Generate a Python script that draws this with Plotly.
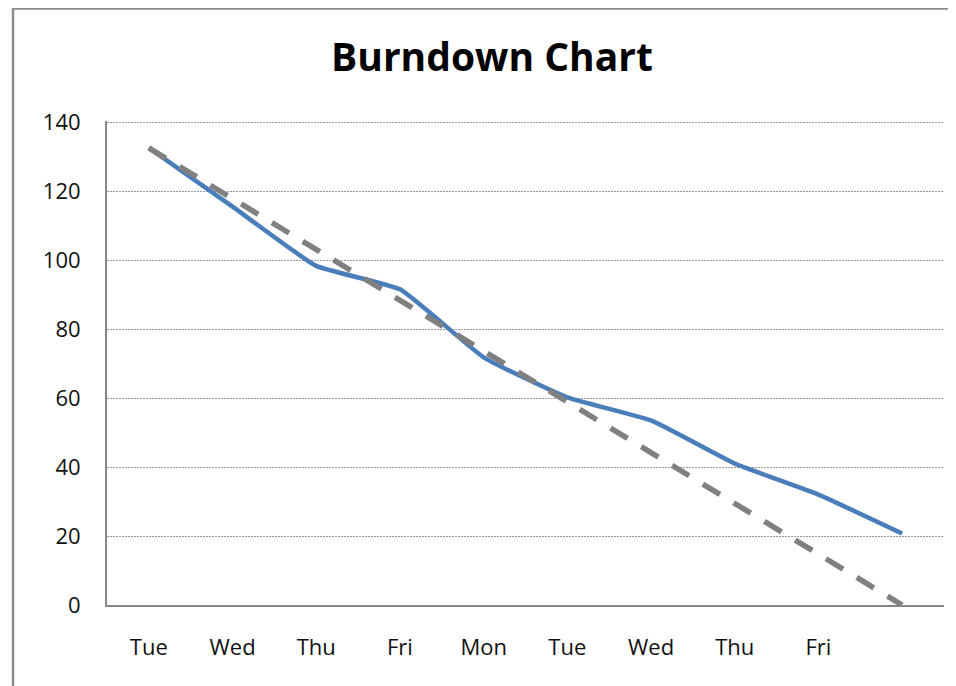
import plotly.graph_objects as go

days = ["Tue", "Wed", "Thu", "Fri", "Mon", "Tue", "Wed", "Thu", "Fri", ""]
actual = [132.5, 115.5, 98.3, 91.5, 71.8, 60.2, 53.5, 41, 32, 20.7]
ideal = [132.5, 117.8, 103.1, 88.3, 73.6, 58.9, 44.2, 29.4, 14.7, 0]
y_ticks = [0, 20, 40, 60, 80, 100, 120, 140]

x = list(range(len(days)))
FONT = "Open Sans"

# page body has an 8px margin: offset everything accordingly
OFF = 8
W, H = 956 - OFF, 686 - OFF
L, R, T, B = 107 - OFF, 12, 121 - OFF, 81
PW = W - L - R
PH = H - T - B

fig = go.Figure()
fig.add_trace(go.Scatter(
    x=x, y=actual, mode="lines",
    line=dict(color="#4A7EBB", width=4.5, shape="spline", smoothing=0.4),
    showlegend=False, hoverinfo="skip"))
fig.add_trace(go.Scatter(
    x=x, y=ideal, mode="lines",
    line=dict(color="#808080", width=5.5, dash="20px,16px"),
    showlegend=False, hoverinfo="skip"))

fig.update_layout(
    width=W, height=H,
    margin=dict(l=L, r=R, t=T, b=B),
    paper_bgcolor="white", plot_bgcolor="white",
    font=dict(family=FONT, size=22, color="#111111"),
    title=dict(text="<b>Burndown Chart</b>", x=(492 - 107) / PW, xref="paper",
               xanchor="center", y=1 - (57 - OFF) / H, yref="container", yanchor="middle",
               font=dict(family=FONT, size=39, color="#000000")),
    xaxis=dict(range=[-0.5, 9.5], tickvals=x, ticktext=days, showgrid=False,
               zeroline=False, showline=True, linecolor="#878787", linewidth=2,
               ticks="", ticklabelstandoff=22, fixedrange=True),
    yaxis=dict(range=[0, 140.3], tickvals=y_ticks, showgrid=True, gridcolor="#9a9a9a",
               griddash="1.5px,1.5px", gridwidth=1.2, zeroline=False, showline=True,
               linecolor="#878787", linewidth=2, ticks="", ticklabelstandoff=20,
               fixedrange=True),
    shapes=[dict(type="rect", xref="paper", yref="paper",
                 x0=(13 - 107) / PW, x1=1.2, y0=-0.4, y1=1 + (121 - 8.5) / PH,
                 line=dict(color="#8c8c8c", width=2.5), fillcolor="rgba(0,0,0,0)",
                 layer="below")],
)

fig.write_html("out.html")
